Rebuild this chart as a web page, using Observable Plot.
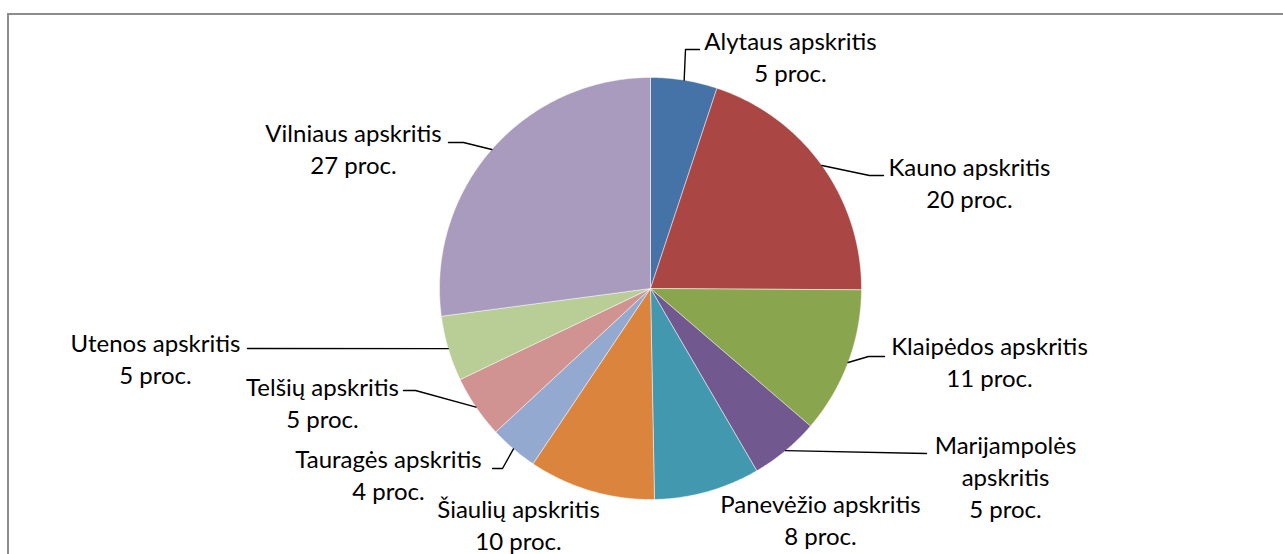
<!DOCTYPE html>
<html><head><meta charset="utf-8">
<script src="https://cdn.jsdelivr.net/npm/d3@7"></script>
<script src="https://cdn.jsdelivr.net/npm/@observablehq/plot@0.6"></script>
<style>
html,body{margin:0;padding:0;background:#fff;overflow:hidden}
#wrap{position:relative;width:1283px;height:554px;overflow:hidden}
#frame{position:absolute;left:7px;top:13px;width:1320px;height:620px;border:2px solid #8c8c8c;box-sizing:border-box}
#chart{position:absolute;left:0;top:0}
</style></head><body>
<div id="wrap"><div id="frame"></div><div id="chart"></div></div>
<script>
// ---- data ----
const regions = ["Alytaus apskritis","Kauno apskritis","Klaipėdos apskritis","Marijampolės apskritis","Panevėžio apskritis","Šiaulių apskritis","Tauragės apskritis","Telšių apskritis","Utenos apskritis","Vilniaus apskritis"];
const shares = [5.1, 20.0, 11.2, 5.3, 8.1, 9.7, 3.7, 4.8, 5.0, 27.1];
const shareLabels = ["5 proc.","20 proc.","11 proc.","5 proc.","8 proc.","10 proc.","4 proc.","5 proc.","5 proc.","27 proc."];
const colors = ["#4572A7","#AA4643","#89A54E","#71588F","#4198AF","#DB843D","#93A9CF","#D19392","#B9CD96","#A99BBD"];

// ---- layout ----
const W = 1283, H = 554, CX = 650, CY = 288, R = 211, FS = 24, LH = 32;
const labelX = [790, 969, 989, 1005, 820, 518, 388, 322, 155, 353];
const labelY = [49, 175, 354, 453, 512, 517, 467, 395, 351, 141];
const wrapName = [false,false,false,true,false,false,false,false,false,false];
const leaderPts = [
  [[685,49],[699,49]],
  [[869,175],[883,175]],
  [[868,356],[884,356]],
  [[926,453]],
  null,
  null,
  [[502,468],[492,468]],
  [[415,390],[403,390]],
  [[247,348]],
  [[463,142],[448,142]]
];

const arcs = d3.pie().sort(null).value(d => d)(shares);
const px = a => CX + R * Math.sin(a), py = a => CY - R * Math.cos(a);

const slicePts = [];
arcs.forEach((a, i) => {
  slicePts.push({name: regions[i], x: CX, y: CY});
  const n = Math.max(2, Math.ceil((a.endAngle - a.startAngle) / 0.01));
  for (let k = 0; k <= n; k++) {
    const t = a.startAngle + (a.endAngle - a.startAngle) * k / n;
    slicePts.push({name: regions[i], x: px(t), y: py(t)});
  }
  slicePts.push({name: regions[i], x: CX, y: CY});
});

const leaders = [];
arcs.forEach((a, i) => {
  if (!leaderPts[i]) return;
  const m = (a.startAngle + a.endAngle) / 2;
  leaders.push({id: i, x: px(m), y: py(m)});
  leaderPts[i].forEach(([x, y]) => leaders.push({id: i, x, y}));
});

const labels = regions.map((r, i) => ({
  text: (wrapName[i] ? r.replace(" ", "\n") : r) + "\n" + shareLabels[i],
  x: labelX[i], y: labelY[i]
}));

const chart = Plot.plot({
  width: W, height: H,
  margin: 0,
  x: {domain: [0, W], range: [0, W], axis: null},
  y: {domain: [0, H], range: [0, H], axis: null},
  color: {domain: regions, range: colors},
  style: {background: "transparent"},
  marks: [
    Plot.line(slicePts, {x: "x", y: "y", z: "name", fill: "name", stroke: "#ffffff", strokeWidth: 0.8, strokeOpacity: 0.6, curve: "linear"}),
    Plot.line(leaders, {x: "x", y: "y", z: "id", stroke: "#000", strokeWidth: 1.4}),
    Plot.text(labels, {x: "x", y: "y", text: "text", textAnchor: "middle", lineAnchor: "top", dy: -Math.round(0.71 * FS) - 5, lineHeight: LH / FS, fontSize: FS, fontFamily: "Lato", fill: "#000"})
  ]
});
document.getElementById("chart").appendChild(chart);
</script>
</body></html>
